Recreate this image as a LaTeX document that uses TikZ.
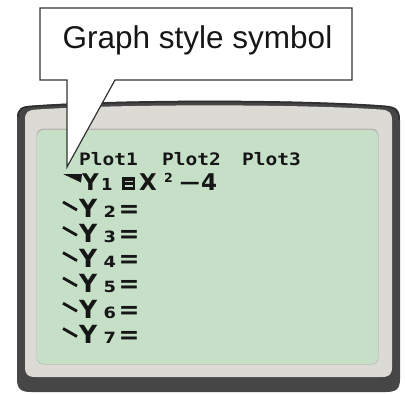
\documentclass[tikz,border=0pt]{standalone}
\usepackage{fontspec}
\setmainfont{Liberation Sans}
\newfontfamily\tiSans{DejaVu Sans}
\newfontfamily\tiMono{DejaVu Sans Mono}
\definecolor{bezeldark}{HTML}{464646}
\definecolor{bezeledge}{HTML}{2E2E2E}
\definecolor{framegray}{HTML}{DCDAD5}
\definecolor{frameshade}{HTML}{B8B6B1}
\definecolor{lcdgreen}{HTML}{C6E0C7}
\definecolor{inkc}{HTML}{161616}
\definecolor{calloutline}{HTML}{333333}
\begin{document}
\begin{tikzpicture}[x=1pt,y=-1pt,
  glyph/.style={inner sep=0pt, anchor=base west, text=inkc, font={\tiSans\bfseries\fontsize{25}{25}\selectfont}},
  glyphone/.style={glyph, font={\tiSans\bfseries\fontsize{23}{23}\selectfont}},
  subdigit/.style={glyph, xscale=1.15, font={\tiSans\bfseries\fontsize{15.5}{15.5}\selectfont}},
  supdigit/.style={glyph, font={\tiSans\bfseries\fontsize{12.5}{12.5}\selectfont}},
  plotlbl/.style={inner sep=0pt, anchor=base west, text=inkc, yscale=0.88, font={\tiMono\bfseries\fontsize{19.5}{19.5}\selectfont}},
  slashmk/.style={draw=inkc, line width=2.8pt},
  callout/.style={draw=calloutline, line width=1.2pt, fill=white, line join=miter}
]
\useasboundingbox (0,0) rectangle (405,394);
% outer dark bezel
\fill[bezeldark] (17,118) .. controls (17,108) and (22,106) .. (32,105.5) .. controls (120,99) and (300,99) .. (385,105.5) .. controls (396,106.5) and (400,109) .. (400,120) -- (400,379) .. controls (400,389) and (396,392) .. (386,392) -- (31,392) .. controls (21,392) and (17,389) .. (17,379) -- cycle;
\draw[bezeledge, line width=1.5pt] (18,117) .. controls (18,109) and (22,107) .. (32,106.5) .. controls (120,100) and (300,100) .. (385,106.5) .. controls (395,107.5) and (399,110) .. (399,120);
% light gray frame
\fill[framegray] (25,120) .. controls (25,111) and (29,110) .. (37,109.5) .. controls (120,104) and (300,104) .. (380,109.5) .. controls (389,110) and (392,112) .. (392,121) -- (392,367) .. controls (392,375) and (389,377) .. (381,377) -- (36,377) .. controls (28,377) and (25,375) .. (25,367) -- cycle;
% green LCD
\fill[frameshade, rounded corners=7pt] (36.5,128.5) rectangle (378.5,364.5);
\fill[lcdgreen, rounded corners=7pt] (37,130) rectangle (378,364);
% callout
\draw[callout] (40,8) -- (352,8) -- (352,80) -- (115,80) -- (67,167) -- (67,80) -- (40,80) -- cycle;
\node[font={\fontsize{31.5}{31.5}\selectfont}, anchor=base, inner sep=0pt, text=inkc] (lbl) at (197.5,48.5) {Graph style symbol};
% plot header
\node[plotlbl] (p1) at (79,165) {Plot1};
\node[plotlbl] (p2) at (162,165) {Plot2};
\node[plotlbl] (p3) at (242,165) {Plot3};
% row 1
\fill[inkc] (63,174) -- (82,174) -- (81,182.5) -- cycle;
\node[glyphone] (y1) at (82,190) {Y};
\node[glyph, font={\tiSans\bfseries\fontsize{16.5}{16.5}\selectfont}] (s1) at (101,190) {1};
\fill[inkc] (122,177) rectangle (135,190);
\node[inner sep=0pt] (e1) at (128.5,183.5) {};
\draw[lcdgreen, line width=1.6pt] (124.5,181.3) -- (132.5,181.3) (124.5,185.7) -- (132.5,185.7);
\node[glyphone] (x1) at (139,190) {X};
\node[supdigit] (sq1) at (164,182) {2};
\node[glyph, xscale=1.3, font={\tiSans\bfseries\fontsize{22}{22}\selectfont}] (m1) at (177.5,190) {−};
\node[glyphone] (f1) at (201,190) {4};
% rows 2-7
\foreach \k in {2,...,7}{
  \pgfmathsetmacro{\b}{217+(\k-2)*25.3}
  \draw[slashmk] (63,{\b-15}) -- (77,{\b-7});
  \node[glyph] (y\k) at (79,\b) {Y};
  \node[subdigit] (s\k) at (103.5,\b) {\k};
  \node[glyph] (e\k) at (118.5,\b) {=};
}
\end{tikzpicture}
\end{document}
